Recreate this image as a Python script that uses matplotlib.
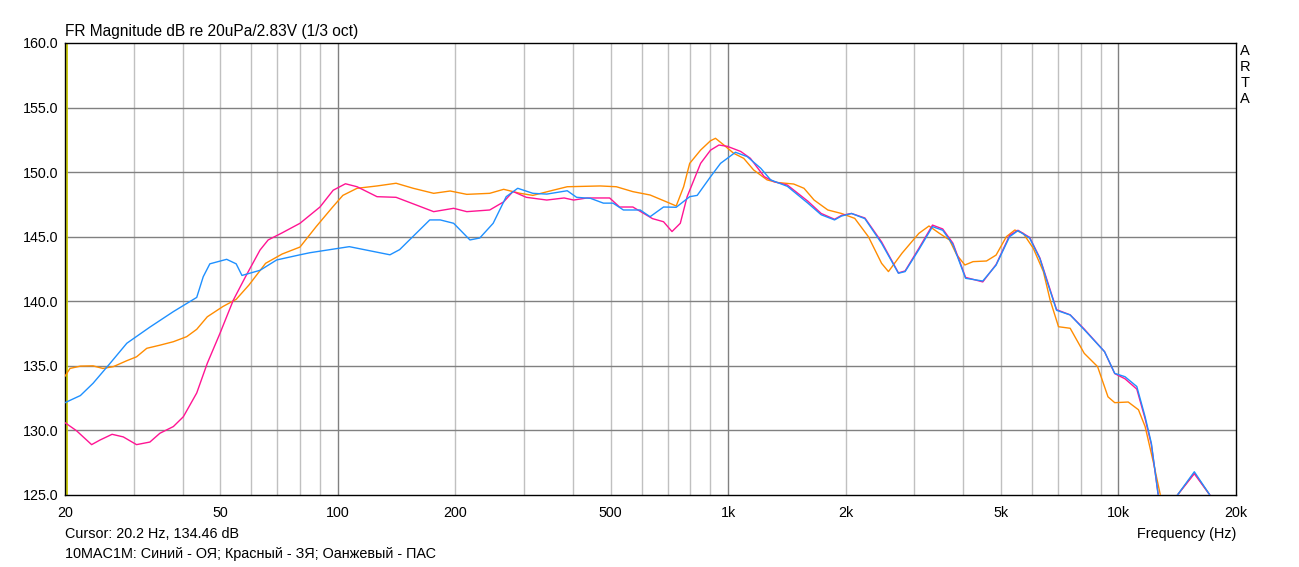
import matplotlib
matplotlib.use("Agg")
import matplotlib.pyplot as plt
from matplotlib.ticker import FixedLocator, NullFormatter, FixedFormatter

plt.rcParams['font.family'] = ['Liberation Sans', 'DejaVu Sans']

# ---- data ----
blue_f = [20, 21.9, 23.6, 26.1, 28.8, 33, 37.9, 43.5, 45.2, 47, 51.9, 54.9, 56.8, 63.2, 69.7, 80, 84.8,
          107, 136, 144, 172, 183, 198, 218, 231, 250, 270, 289, 316, 343, 387, 409, 444, 479, 507,
          539, 595, 631, 683, 736, 797, 833, 901, 956, 1044, 1119, 1212, 1285, 1418, 1600, 1731,
          1873, 1951, 2070, 2240, 2472, 2730, 2840, 3080, 3338, 3545, 3765, 4057, 4490, 4858, 5260,
          5525, 5920, 6290, 6543, 6940, 7520, 8170, 9210, 9780, 10390, 11140, 11700, 12140, 12640,
          13300, 14160, 15640, 17140, 18500, 20000]
blue_db = [132.15, 132.7, 133.65, 135.2, 136.75, 138.0, 139.2, 140.3, 141.9, 142.9, 143.25, 142.9, 142.0,
           142.4, 143.2, 143.6, 143.76, 144.23, 143.6, 144.0, 146.3, 146.3, 146.04, 144.75, 144.9,
           146.04, 148.1, 148.75, 148.36, 148.3, 148.56, 148.05, 147.97, 147.6, 147.6, 147.07, 147.07,
           146.55, 147.3, 147.28, 148.1, 148.2, 149.64, 150.68, 151.54, 151.2, 150.3, 149.4, 148.9,
           147.6, 146.7, 146.3, 146.6, 146.8, 146.4, 144.49, 142.17, 142.3, 144.0, 145.78, 145.5,
           144.4, 141.78, 141.57, 142.8, 145.0, 145.47, 144.9, 143.3, 141.65, 139.3, 138.94, 137.8,
           136.1, 134.42, 134.16, 133.4, 131.06, 129.0, 125.0, 122.5, 125.0, 126.8, 125.0, 122.0, 119.0]

pink_f = [20, 21.4, 23.4, 24.6, 26.4, 28.2, 30.5, 33, 35, 37.9, 40.2, 43.5, 46.3, 49.9, 54, 58, 63.2,
          66.3, 72, 80, 90, 97.3, 104.6, 112, 126, 141, 159, 176, 198, 214, 245, 266, 281, 304, 343,
          380, 402, 435, 497, 527, 570, 640, 683, 718, 754, 785, 850, 901, 947, 995, 1077, 1140, 1237,
          1311, 1418, 1600, 1731, 1873, 1951, 2070, 2240, 2472, 2730, 2840, 3080, 3338, 3545, 3765,
          4057, 4490, 4858, 5260, 5525, 5920, 6290, 6543, 6940, 7520, 8170, 9210, 9780, 10390, 11140,
          11700, 12140, 12640, 13300, 14160, 15640, 17140, 18500, 20000]
pink_db = [130.6, 129.98, 128.9, 129.26, 129.7, 129.5, 128.9, 129.1, 129.78, 130.3, 131.06, 132.9, 135.2,
           137.52, 140.1, 141.9, 143.97, 144.75, 145.3, 146.04, 147.3, 148.6, 149.1, 148.87, 148.1,
           148.05, 147.45, 146.94, 147.2, 146.94, 147.07, 147.7, 148.5, 148.05, 147.84, 148.0, 147.84,
           148.0, 148.0, 147.3, 147.3, 146.4, 146.16, 145.4, 146.04, 148.1, 150.68, 151.7, 152.1, 152.0,
           151.6, 151.07, 149.65, 149.26, 149.0, 147.75, 146.8, 146.35, 146.65, 146.8, 146.45, 144.6,
           142.2, 142.35, 144.1, 145.9, 145.6, 144.5, 141.85, 141.5, 142.85, 145.1, 145.5, 144.95,
           143.35, 141.75, 139.35, 138.95, 137.85, 136.1, 134.4, 134.0, 133.2, 130.9, 128.9, 125.0,
           122.5, 125.0, 126.65, 125.0, 122.0, 119.0]

orange_f = [20, 20.6, 21.9, 23.6, 25, 26.6, 28.8, 30.5, 32.4, 35, 37.9, 41, 43.5, 46.3, 50.8, 54.9, 59.2,
            65.3, 72, 80, 88, 97, 103, 112, 126, 141, 156, 176, 194, 214, 245, 266, 293, 316, 356, 387,
            470, 517, 570, 631, 695, 736, 769, 797, 850, 901, 928, 975, 1033, 1096, 1162, 1258, 1334,
            1472, 1564, 1660, 1800, 1951, 2110, 2287, 2472, 2574, 2788, 3080, 3270, 3477, 3690, 3850,
            4040, 4240, 4590, 4858, 5160, 5425, 5700, 6050, 6420, 6680, 7020, 7520, 8170, 8840, 9400,
            9780, 10590, 11250, 11700, 12300, 12800, 13400, 14160, 15640, 17140, 18500, 20000]
orange_db = [134.2, 134.8, 134.98, 135.0, 134.8, 134.94, 135.4, 135.7, 136.36, 136.6, 136.87, 137.26,
             137.83, 138.8, 139.6, 140.15, 141.26, 142.94, 143.66, 144.2, 145.78, 147.3, 148.2, 148.75,
             148.93, 149.14, 148.75, 148.36, 148.54, 148.28, 148.36, 148.67, 148.36, 148.2, 148.6,
             148.87, 148.93, 148.87, 148.49, 148.23, 147.7, 147.38, 148.87, 150.68, 151.71, 152.43,
             152.62, 152.1, 151.46, 151.07, 150.17, 149.4, 149.2, 149.08, 148.75, 147.84, 147.07, 146.8,
             146.42, 145.0, 142.94, 142.3, 143.72, 145.26, 145.83, 145.26, 144.75, 143.6, 142.81,
             143.07, 143.12, 143.58, 145.0, 145.52, 145.26, 144.1, 142.3, 140.1, 138.03, 137.91,
             135.97, 134.94, 132.6, 132.15, 132.2, 131.6, 130.3, 127.46, 125.0, 122.5, 125.0, 126.7,
             125.0, 122.0, 119.0]

x_ticks = [20, 50, 100, 200, 500, 1000, 2000, 5000, 10000, 20000]
x_tick_labels = ["20", "50", "100", "200", "500", "1k", "2k", "5k", "10k", "20k"]
y_ticks = [125, 130, 135, 140, 145, 150, 155, 160]
y_tick_labels = ["125.0", "130.0", "135.0", "140.0", "145.0", "150.0", "155.0", "160.0"]
cursor_f = 20.2

# ---- figure ----
W, H = 1299, 567
fig = plt.figure(figsize=(W / 100, H / 100), dpi=100)
L, R, T, B = 65, 1236, 43, 495
ax = fig.add_axes([L / W, 1 - B / H, (R - L) / W, (B - T) / H])

ax.set_xscale('log')
ax.set_xlim(20, 20000)
ax.set_ylim(125, 160)

decades = [100, 1000, 10000]
minors = [m * d for d in [10, 100, 1000, 10000] for m in range(2, 10) if 20 < m * d < 20000]
for f in minors:
    ax.axvline(f, color='#c0c0c0', lw=1.0, zorder=1)
for f in decades:
    ax.axvline(f, color='#808080', lw=1.0, zorder=1)
for y in y_ticks[1:-1]:
    ax.axhline(y, color='#808080', lw=1.0, zorder=1)

ax.axvline(cursor_f, color='#c8c800', lw=1.3, zorder=2)

ax.plot(orange_f, orange_db, color='#ff8c00', lw=1.0, zorder=3)
ax.plot(pink_f, pink_db, color='#ff1493', lw=1.0, zorder=4)
ax.plot(blue_f, blue_db, color='#1e90ff', lw=1.0, zorder=5)

ax.xaxis.set_major_locator(FixedLocator(x_ticks))
ax.xaxis.set_major_formatter(FixedFormatter(x_tick_labels))
ax.xaxis.set_minor_locator(FixedLocator([]))
ax.xaxis.set_minor_formatter(NullFormatter())
ax.yaxis.set_major_locator(FixedLocator(y_ticks))
ax.yaxis.set_major_formatter(FixedFormatter(y_tick_labels))
ax.tick_params(axis='both', which='both', length=0, labelsize=10.3, colors='black')
ax.tick_params(axis='x', pad=8)
ax.tick_params(axis='y', pad=5)
for s in ax.spines.values():
    s.set_color('black')
    s.set_linewidth(1.0)

fs = 10.4
fig.text(L / W, 1 - 36 / H, "FR Magnitude dB re 20uPa/2.83V (1/3 oct)", fontsize=11.2,
         ha='left', va='baseline')
fig.text(L / W, 1 - 534 / H, "Cursor: 20.2 Hz, 134.46 dB", fontsize=fs, ha='left', va='center')
fig.text(L / W, 1 - 554 / H, "10MAC1M: Синий - ОЯ; Красный - ЗЯ; Оанжевый - ПАС", fontsize=fs,
         ha='left', va='center')
fig.text(R / W, 1 - 534 / H, "Frequency (Hz)", fontsize=fs, ha='right', va='center')
for i, ch in enumerate("ARTA"):
    fig.text(1245 / W, 1 - (51 + 16 * i) / H, ch, fontsize=10.5, ha='center', va='center')

fig.savefig("out.png", dpi=100)
